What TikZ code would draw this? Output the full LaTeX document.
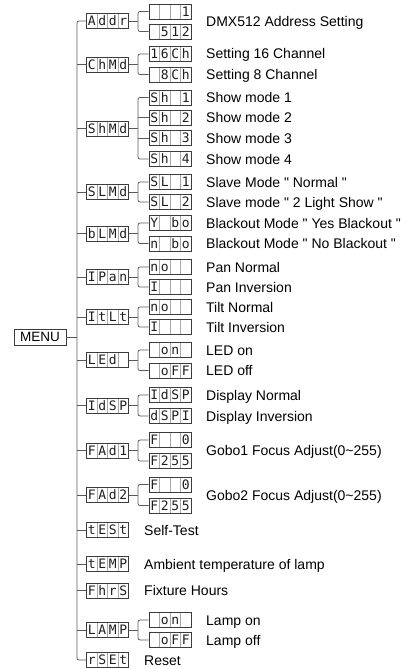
\documentclass[tikz,border=0pt]{standalone}
\usepackage{fontspec}
\setmainfont{Liberation Sans}
\newfontfamily\segfont{DejaVu Sans Mono}
\usetikzlibrary{calc}
\definecolor{boxc}{HTML}{3C3C3C}
\definecolor{divc}{HTML}{A8A8A8}
\definecolor{linec}{HTML}{5A5A5A}
\definecolor{segc}{HTML}{1E1E1E}
\newcommand\dcells[4]{\makebox[10.5pt]{#1}\makebox[10.5pt]{#2}\makebox[10.5pt]{#3}\makebox[10.5pt]{#4}}
\newcommand\qq{\textquotedbl}
\begin{document}
\begin{tikzpicture}[x=1pt,y=-1pt,
  disp/.style={draw=boxc, line width=0.8pt, minimum width=42pt, minimum height=15pt,
    inner sep=0pt, text height=9.3pt, text depth=0pt, text=segc,
    font=\segfont\fontsize{13}{13}\selectfont,
    path picture={\foreach \k in {1,2,3}{\draw[divc,line width=0.4pt]
      ($(path picture bounding box.north west)!\k/4!(path picture bounding box.north east)$) --
      ($(path picture bounding box.south west)!\k/4!(path picture bounding box.south east)$);}}},
  lbl/.style={anchor=base west, inner sep=0pt, font=\fontsize{14}{16}\selectfont},
  menubox/.style={draw=boxc, line width=0.8pt, minimum width=52pt, minimum height=16pt,
    inner sep=0pt, font=\fontsize{13.5}{14}\selectfont},
  conn/.style={draw=linec, line width=0.8pt, rounded corners=2pt}]
\useasboundingbox (0,0) rectangle (405,669);

% trunk coordinates
\coordinate (tx) at (77,0);
\coordinate (bx) at (138,0);

% MENU
\node[menubox] (menu) at (40,337) {MENU};

% level 1
\node[disp] (addr) at (107.5,21) {\dcells{A}{d}{d}{r}};
\node[disp] (chmd) at (107.5,64.5) {\dcells{C}{h}{M}{d}};
\node[disp] (shmd) at (107.5,128.5) {\dcells{S}{h}{M}{d}};
\node[disp] (slmd) at (107.5,192) {\dcells{S}{L}{M}{d}};
\node[disp] (blmd) at (107.5,233.5) {\dcells{b}{L}{M}{d}};
\node[disp] (ipan) at (107.5,277) {\dcells{I}{P}{a}{n}};
\node[disp] (itlt) at (107.5,317) {\dcells{I}{t}{L}{t}};
\node[disp] (led) at (107.5,360) {\dcells{L}{E}{d}{}};
\node[disp] (idsp) at (107.5,405.5) {\dcells{I}{d}{S}{P}};
\node[disp] (fad1) at (107.5,450.5) {\dcells{F}{A}{d}{1}};
\node[disp] (fad2) at (107.5,495) {\dcells{F}{A}{d}{2}};
\node[disp] (test) at (107.5,530) {\dcells{t}{E}{S}{t}};
\node[disp] (temp) at (107.5,564) {\dcells{t}{E}{M}{P}};
\node[disp] (fhrs) at (107.5,590.5) {\dcells{F}{h}{r}{S}};
\node[disp] (lamp) at (107.5,630) {\dcells{L}{A}{M}{P}};
\node[disp] (rset) at (107.5,660) {\dcells{r}{S}{E}{t}};

% level 2
\node[disp] (a1) at (170,11.5) {\dcells{}{}{}{1}};
\node[disp] (a2) at (170,31.5) {\dcells{}{5}{1}{2}};
\node[disp] (c1) at (170,54) {\dcells{1}{6}{C}{h}};
\node[disp] (c2) at (170,74.5) {\dcells{}{8}{C}{h}};
\node[disp] (s1) at (170,97.5) {\dcells{S}{h}{}{1}};
\node[disp] (s2) at (170,117.5) {\dcells{S}{h}{}{2}};
\node[disp] (s3) at (170,138) {\dcells{S}{h}{}{3}};
\node[disp] (s4) at (170,159) {\dcells{S}{h}{}{4}};
\node[disp] (l1) at (170,182) {\dcells{S}{L}{}{1}};
\node[disp] (l2) at (170,202) {\dcells{S}{L}{}{2}};
\node[disp] (b1) at (170,223) {\dcells{Y}{}{b}{o}};
\node[disp] (b2) at (170,243.5) {\dcells{n}{}{b}{o}};
\node[disp] (p1) at (170,267) {\dcells{n}{o}{}{}};
\node[disp] (p2) at (170,287) {\dcells{I}{}{}{}};
\node[disp] (t1) at (170,307) {\dcells{n}{o}{}{}};
\node[disp] (t2) at (170,327) {\dcells{I}{}{}{}};
\node[disp] (e1) at (170,350) {\dcells{}{o}{n}{}};
\node[disp] (e2) at (170,370.5) {\dcells{}{o}{F}{F}};
\node[disp] (d1) at (170,395) {\dcells{I}{d}{S}{P}};
\node[disp] (d2) at (170,416) {\dcells{d}{S}{P}{I}};
\node[disp] (f1) at (170,440) {\dcells{F}{}{}{0}};
\node[disp] (f2) at (170,461) {\dcells{F}{2}{5}{5}};
\node[disp] (g1) at (170,484.5) {\dcells{F}{}{}{0}};
\node[disp] (g2) at (170,505.5) {\dcells{F}{2}{5}{5}};
\node[disp] (m1) at (170,620) {\dcells{}{o}{n}{}};
\node[disp] (m2) at (170,640) {\dcells{}{o}{F}{F}};

% labels
\node[lbl] (ta) at (206,27) {DMX512 Address Setting};
\node[lbl] (tc1) at (206,59) {Setting 16 Channel};
\node[lbl] (tc2) at (206,79.5) {Setting 8 Channel};
\node[lbl] (ts1) at (206,102.5) {Show mode 1};
\node[lbl] (ts2) at (206,122.5) {Show mode 2};
\node[lbl] (ts3) at (206,143) {Show mode 3};
\node[lbl] (ts4) at (206,164) {Show mode 4};
\node[lbl] (tl1) at (206,187) {Slave Mode \qq{} Normal \qq};
\node[lbl] (tl2) at (206,207) {Slave mode \qq{} 2 Light Show \qq};
\node[lbl] (tb1) at (206,228) {Blackout Mode \qq{} Yes Blackout \qq};
\node[lbl] (tb2) at (206,248.5) {Blackout Mode \qq{} No Blackout \qq};
\node[lbl] (tp1) at (206,272) {Pan Normal};
\node[lbl] (tp2) at (206,292) {Pan Inversion};
\node[lbl] (tt1) at (206,312) {Tilt Normal};
\node[lbl] (tt2) at (206,332) {Tilt Inversion};
\node[lbl] (te1) at (206,355) {LED on};
\node[lbl] (te2) at (206,375.5) {LED off};
\node[lbl] (td1) at (206,400) {Display Normal};
\node[lbl] (td2) at (206,421) {Display Inversion};
\node[lbl] (tf) at (206,455.5) {Gobo1 Focus Adjust(0\textasciitilde255)};
\node[lbl] (tg) at (206,500) {Gobo2 Focus Adjust(0\textasciitilde255)};
\node[lbl] (ttest) at (144,535) {Self-Test};
\node[lbl] (ttemp) at (144,569) {Ambient temperature of lamp};
\node[lbl] (tfhrs) at (144,595.5) {Fixture Hours};
\node[lbl] (tm1) at (206,625) {Lamp on};
\node[lbl] (tm2) at (206,645) {Lamp off};
\node[lbl] (trset) at (144,665) {Reset};

% trunk
\draw[conn] (addr.west) -- (addr.west -| tx) -- (rset.west -| tx) -- (rset.west);
\foreach \n in {chmd,shmd,slmd,blmd,ipan,itlt,led,idsp,fad1,fad2,test,temp,fhrs,lamp}
  \draw[conn] (\n.west) -- (\n.west -| tx);
\draw[conn] (menu.east) -- (menu.east -| tx);

% level-2 branches
\foreach \p/\u/\v in {addr/a1/a2,chmd/c1/c2,shmd/s1/s4,slmd/l1/l2,blmd/b1/b2,ipan/p1/p2,itlt/t1/t2,led/e1/e2,idsp/d1/d2,fad1/f1/f2,fad2/g1/g2,lamp/m1/m2}{
  \draw[conn] (\u.west) -- (\u.west -| bx) -- (\v.west -| bx) -- (\v.west);
  \draw[conn] (\p.east) -- (\p.east -| bx);
}
\draw[conn] (s2.west) -- (s2.west -| bx);
\draw[conn] (s3.west) -- (s3.west -| bx);
\end{tikzpicture}
\end{document}
